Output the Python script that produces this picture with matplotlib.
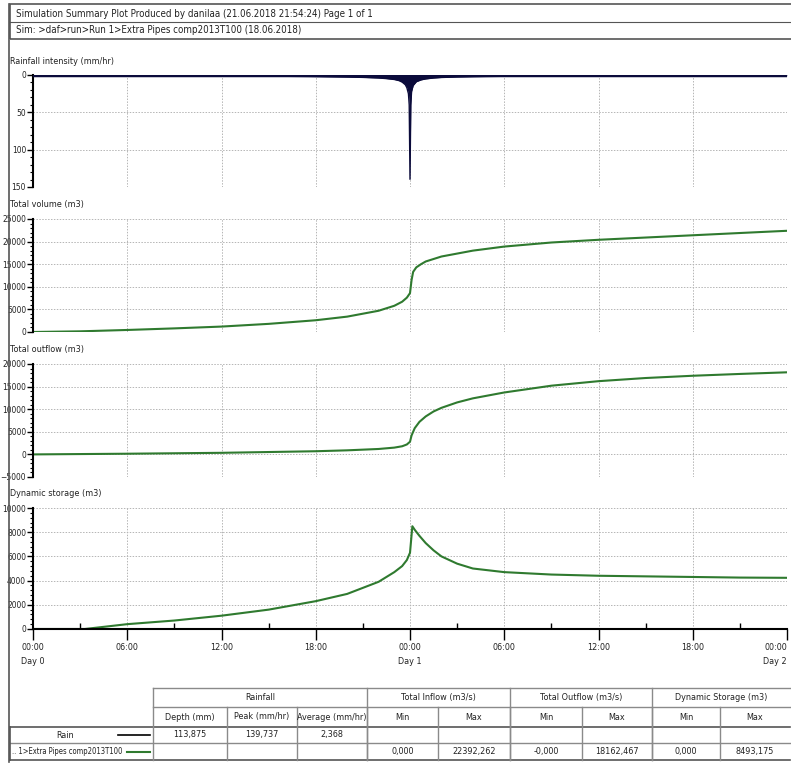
import matplotlib
matplotlib.use("Agg")
import matplotlib.pyplot as plt
from matplotlib.ticker import MultipleLocator, AutoMinorLocator, FixedLocator
from matplotlib.lines import Line2D
from matplotlib.patches import Rectangle

plt.rcParams['font.family'] = ['DejaVu Sans']
plt.rcParams['font.stretch'] = 'condensed'

# ---------------- data ----------------
header_line1 = "Simulation Summary Plot Produced by danilaa (21.06.2018 21:54:24) Page 1 of 1"
header_line2 = "Sim: >daf>run>Run 1>Extra Pipes comp2013T100 (18.06.2018)"

rain_t = [0, 6, 12, 16, 18, 20, 21, 22, 22.5, 23, 23.3, 23.5, 23.7, 23.8, 23.9, 23.95,
          24.0, 24.05, 24.1, 24.2, 24.4, 24.7, 25, 25.5, 26, 27, 28, 30, 36, 42, 48]
rain_v = [0.8, 1.0, 1.3, 1.7, 2.1, 2.7, 3.2, 4.0, 4.8, 6.0, 7.5, 9.5, 13, 17, 25, 40,
          139.7, 40, 22, 14, 9, 6.5, 5.2, 4.0, 3.3, 2.6, 2.2, 1.7, 1.2, 1.0, 0.9]

vol_t = [0, 3, 6, 9, 12, 15, 18, 20, 22, 23, 23.5, 23.8, 24.0, 24.1, 24.2, 24.4, 24.7,
         25, 26, 28, 30, 33, 36, 39, 42, 45, 48]
vol_v = [0, 150, 450, 800, 1200, 1800, 2600, 3400, 4700, 5800, 6700, 7600, 8600, 11500,
         13300, 14300, 15000, 15600, 16700, 18000, 18900, 19800, 20400, 20900, 21400,
         21900, 22392]

out_t = [0, 6, 12, 18, 20, 22, 23, 23.5, 23.8, 24.0, 24.1, 24.3, 24.6, 25, 25.5, 26, 27,
         28, 30, 33, 36, 39, 42, 45, 48]
out_v = [0, 150, 350, 700, 900, 1200, 1500, 1800, 2200, 2800, 4200, 5800, 7200, 8400,
         9500, 10300, 11500, 12400, 13700, 15200, 16200, 16900, 17400, 17800, 18162]

stor_t = [0, 3.3, 6, 9, 12, 15, 18, 20, 22, 23, 23.5, 23.8, 24.0, 24.15, 24.3, 24.6, 25,
          25.5, 26, 27, 28, 30, 33, 36, 39, 42, 45, 48]
stor_v = [0, 0, 400, 700, 1100, 1600, 2300, 2900, 3900, 4700, 5200, 5700, 6300, 8493,
          8200, 7700, 7100, 6500, 6000, 5400, 5000, 4700, 4500, 4400, 4350, 4300, 4250, 4230]

x_ticks = [0, 6, 12, 18, 24, 30, 36, 42, 48]
x_labels = ["00:00\nDay 0", "06:00", "12:00", "18:00", "00:00\nDay 1", "06:00", "12:00",
            "18:00", "00:00\nDay 2"]

panel_titles = ["Rainfall intensity (mm/hr)", "Total volume (m3)", "Total outflow (m3)",
                "Dynamic storage (m3)"]

group_headers = ["Rainfall", "Total Inflow (m3/s)", "Total Outflow (m3/s)", "Dynamic Storage (m3)"]
col_headers = ["Depth (mm)", "Peak (mm/hr)", "Average (mm/hr)", "Min", "Max", "Min", "Max", "Min", "Max"]
row_labels = ["Rain", ".. 1>Extra Pipes comp2013T100"]
row_rain = ["113,875", "139,737", "2,368", "", "", "", "", "", ""]
row_sim = ["", "", "", "0,000", "22392,262", "-0,000", "18162,467", "0,000", "8493,175"]

RAIN_C = "#0b0b3b"
GREEN = "#2f7a2f"
TXT = "#222222"
FS = 6.5

W, H = 791, 766
fig = plt.figure(figsize=(W / 100, H / 100), dpi=100)
fig.patch.set_facecolor("white")

def fx(px):
    return px / W

def fy(py):
    return 1 - py / H

# ---------------- frame & header ----------------
fig.add_artist(Line2D([fx(9), fx(9)], [fy(4), fy(762)], color="#555555", lw=1.2))
fig.add_artist(Rectangle((fx(10), fy(39)), fx(800) - fx(10), fy(4) - fy(39),
                         fill=False, ec="#555555", lw=1.2, transform=fig.transFigure))
fig.add_artist(Line2D([fx(10), fx(791)], [fy(22), fy(22)], color="#555555", lw=0.8))
fig.text(fx(16), fy(14), header_line1, fontsize=7, color=TXT, va="center", ha="left")
fig.text(fx(16), fy(30), header_line2, fontsize=7, color=TXT, va="center", ha="left")

# ---------------- axes ----------------
X0, X1 = 33, 787
panels = [(75, 187), (219, 332), (364, 477), (508, 629)]
title_y = [62, 205, 350, 493]
ylims = [(150, 0), (0, 25000), (-5000, 20000), (0, 10000)]
ysteps = [50, 5000, 5000, 2000]

axes = []
for i, (top, bot) in enumerate(panels):
    ax = fig.add_axes([fx(X0), fy(bot), fx(X1) - fx(X0), fy(top) - fy(bot)])
    ax.set_xlim(0, 48)
    ax.set_ylim(*ylims[i])
    ax.yaxis.set_major_locator(MultipleLocator(ysteps[i]))
    ax.yaxis.set_minor_locator(AutoMinorLocator(5))
    ax.xaxis.set_major_locator(FixedLocator(x_ticks))
    ax.xaxis.set_minor_locator(FixedLocator([3, 9, 15, 21, 27, 33, 39, 45]))
    for s in ["top", "right", "bottom"]:
        ax.spines[s].set_visible(False)
    ax.spines["left"].set_linewidth(1.5)
    ax.spines["left"].set_color("black")
    ax.tick_params(axis="y", which="major", direction="out", length=4, width=1,
                   labelsize=6, colors="black", labelcolor=TXT, pad=1)
    ax.tick_params(axis="y", which="minor", direction="out", length=2, width=0.8)
    ax.grid(True, which="major", axis="both", ls=(0, (1.5, 1.5)), color="#b5b5b5", lw=0.7)
    ax.set_axisbelow(True)
    ax.patch.set_alpha(0)
    if i < 3:
        ax.tick_params(axis="x", which="both", length=0, labelbottom=False)
    fig.text(fx(10), fy(title_y[i]), panel_titles[i], fontsize=FS, color=TXT,
             va="center", ha="left")
    axes.append(ax)

ax_r, ax_v, ax_o, ax_s = axes
ax_r.fill_between(rain_t, 0, rain_v, color=RAIN_C, lw=0)
ax_r.plot(rain_t, rain_v, color=RAIN_C, lw=1.0)
ax_r.axhline(0, color=RAIN_C, lw=2.5, zorder=5)

ax_v.plot(vol_t, vol_v, color=GREEN, lw=1.5)
ax_o.plot(out_t, out_v, color=GREEN, lw=1.5)
ax_s.plot(stor_t, stor_v, color=GREEN, lw=1.5)

ax_s.spines["bottom"].set_visible(True)
ax_s.spines["bottom"].set_linewidth(1.5)
ax_s.spines["bottom"].set_color("black")
ax_s.set_xticks(x_ticks)
ax_s.set_xticklabels(x_labels)
ax_s.tick_params(axis="x", which="major", direction="out", length=8, width=1,
                 labelsize=FS, labelcolor=TXT, pad=2)
ax_s.tick_params(axis="x", which="minor", direction="in", length=4, width=1)
xl = ax_s.get_xticklabels()
for lab in xl:
    lab.set_linespacing(1.7)
    lab.set_multialignment("left")
xl[-1].set_horizontalalignment("right")
xl[-1].set_multialignment("right")

# ---------------- table ----------------
LC = "#8a8a8a"
r0, r1, r2, r3, r4 = 688, 707, 727, 743, 760
col_x = [153, 227, 297, 367, 438, 510, 582, 652, 720, 790]
group_x = [(153, 367), (367, 510), (510, 652), (652, 790)]

def hline(x0, x1, y, c=LC, lw=1.0):
    fig.add_artist(Line2D([fx(x0), fx(x1)], [fy(y), fy(y)], color=c, lw=lw))

def vline(x, y0, y1, c=LC, lw=1.0):
    fig.add_artist(Line2D([fx(x), fx(x)], [fy(y0), fy(y1)], color=c, lw=lw))

hline(153, 790, r0)
hline(153, 790, r1)
hline(10, 790, r2, c="#555555", lw=1.2)
hline(10, 790, r3)
hline(10, 790, r4, c="#555555", lw=1.2)
vline(153, r0, r4)
for gx0, gx1 in group_x[1:]:
    vline(gx0, r0, r4)
for cx in col_x[1:-1]:
    vline(cx, r1, r4)
vline(10, r2, r4, c="#555555", lw=1.2)

for (gx0, gx1), g in zip(group_x, group_headers):
    fig.text(fx((gx0 + gx1) / 2), fy((r0 + r1) / 2), g, fontsize=FS, color=TXT,
             ha="center", va="center")
for k, h in enumerate(col_headers):
    fig.text(fx((col_x[k] + col_x[k + 1]) / 2), fy((r1 + r2) / 2), h, fontsize=FS,
             color=TXT, ha="center", va="center")
for k, v in enumerate(row_rain):
    fig.text(fx((col_x[k] + col_x[k + 1]) / 2), fy((r2 + r3) / 2), v, fontsize=FS,
             color=TXT, ha="center", va="center")
for k, v in enumerate(row_sim):
    fig.text(fx((col_x[k] + col_x[k + 1]) / 2), fy((r3 + r4) / 2), v, fontsize=FS,
             color=TXT, ha="center", va="center")

fig.text(fx(65), fy((r2 + r3) / 2), row_labels[0], fontsize=FS, color=TXT,
         ha="center", va="center")
fig.add_artist(Line2D([fx(118), fx(150)], [fy((r2 + r3) / 2)] * 2, color="black", lw=1.2))
fig.text(fx(12), fy((r3 + r4) / 2), row_labels[1], fontsize=5.5, color=TXT,
         ha="left", va="center")
fig.add_artist(Line2D([fx(127), fx(150)], [fy((r3 + r4) / 2)] * 2, color=GREEN, lw=1.5))

fig.savefig("out.png", dpi=100, facecolor="white")
